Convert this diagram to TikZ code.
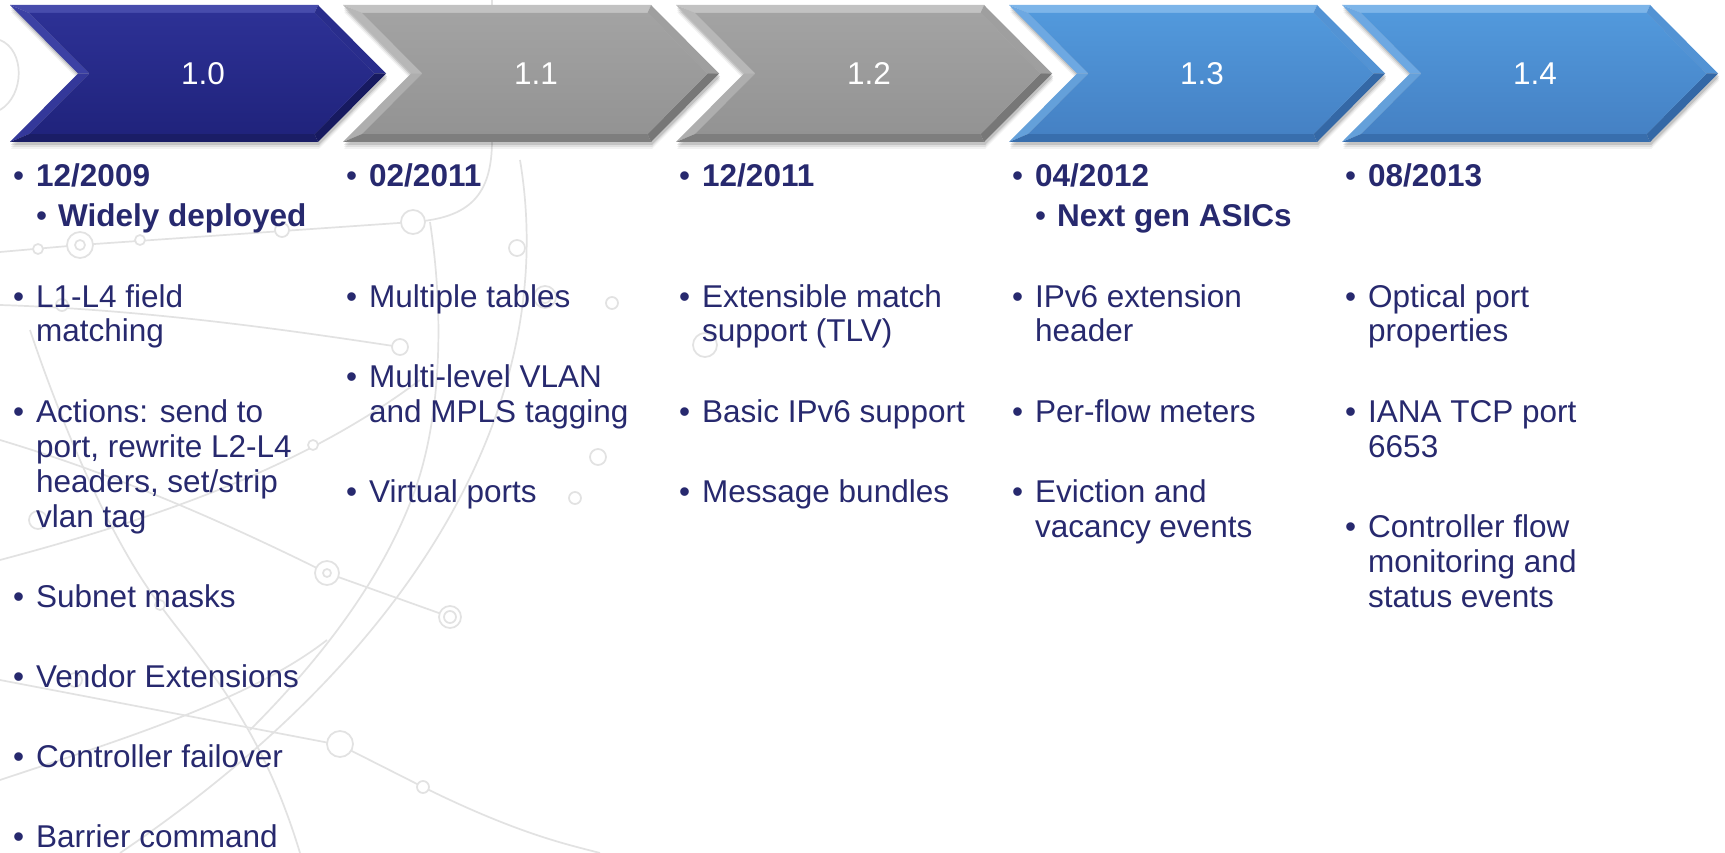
\documentclass[tikz,border=0pt]{standalone}
\usepackage{fontspec}
\setmainfont{Liberation Sans}
\usepackage{array}

\definecolor{ink}{HTML}{27296E}
\definecolor{web}{HTML}{E2E2E2}
% navy palette
\definecolor{navyBodyA}{HTML}{2D3195}\definecolor{navyBodyB}{HTML}{20237C}
\definecolor{navyTopF}{HTML}{474CAC}\definecolor{navyUL}{HTML}{3C41A4}
\definecolor{navyLL}{HTML}{34389A}\definecolor{navyUR}{HTML}{292D8C}
\definecolor{navyLR}{HTML}{171A60}\definecolor{navyBot}{HTML}{1A1D66}
% grey palette
\definecolor{greyBodyA}{HTML}{A3A3A3}\definecolor{greyBodyB}{HTML}{939393}
\definecolor{greyTopF}{HTML}{C2C2C2}\definecolor{greyUL}{HTML}{B7B7B7}
\definecolor{greyLL}{HTML}{AEAEAE}\definecolor{greyUR}{HTML}{9F9F9F}
\definecolor{greyLR}{HTML}{777777}\definecolor{greyBot}{HTML}{7E7E7E}
% blue palette
\definecolor{blueBodyA}{HTML}{5299DC}\definecolor{blueBodyB}{HTML}{4581C4}
\definecolor{blueTopF}{HTML}{7DB5E9}\definecolor{blueUL}{HTML}{6DA8E2}
\definecolor{blueLL}{HTML}{64A0DA}\definecolor{blueUR}{HTML}{5393D4}
\definecolor{blueLR}{HTML}{3468A6}\definecolor{blueBot}{HTML}{386EAD}

\tikzset{
  webline/.style={draw=web, line width=1.7pt},
  ring/.style={draw=web, line width=1.7pt, fill=white},
  chevlabel/.style={text=white, inner sep=0pt, font=\fontsize{31.5}{35}\selectfont},
  entry/.style={anchor=base west, inner sep=0pt, text=ink, font=\fontsize{31.5}{35}\selectfont},
}

% bullet item, lines separated by \\
\newcommand\bul[1]{\makebox[23pt][l]{\textbullet}\begin{tabular}[t]{@{}l@{}}#1\end{tabular}}
\newcommand\subbul[1]{\makebox[22pt][l]{\textbullet}#1}

% bevelled chevron: #1 x offset, #2 palette, #3 label node name, #4 label
\newcommand\drawchev[4]{%
  \begin{scope}[shift={(#1,0)}]
    \foreach \s/\o in {7/0.05,5/0.08,3/0.12}{%
      \fill[black,opacity=\o] (1,5+\s) -- (309,5+\s) -- (377,73.5+\s) -- (309,142+\s) -- (1,142+\s) -- (69,73.5+\s) -- cycle;}
    \fill[#2TopF] (0,5) -- (308,5) -- (304.6,13) -- (19.2,13) -- cycle;
    \fill[#2UL] (0,5) -- (19.2,13) -- (79.3,73.5) -- (68,73.5) -- cycle;
    \fill[#2LL] (68,73.5) -- (79.3,73.5) -- (19.2,134) -- (0,142) -- cycle;
    \fill[#2UR] (308,5) -- (376,73.5) -- (364.7,73.5) -- (304.6,13) -- cycle;
    \fill[#2LR] (376,73.5) -- (308,142) -- (304.6,134) -- (364.7,73.5) -- cycle;
    \fill[#2Bot] (308,142) -- (0,142) -- (19.2,134) -- (304.6,134) -- cycle;
    \shade[top color=#2BodyA, bottom color=#2BodyB] (19.2,13) -- (304.6,13) -- (364.7,73.5) -- (304.6,134) -- (19.2,134) -- (79.3,73.5) -- cycle;
    \node[chevlabel] (#3) at (193,73.5) {#4};
  \end{scope}}

\begin{document}
\begin{tikzpicture}[x=1pt, y=-1pt]
\useasboundingbox (0,0) rectangle (1725,853);
\fill[white] (0,0) rectangle (1725,853);

% faint network decoration in the background
\begin{scope}
  \clip (0,0) rectangle (1725,853);
  \draw[webline] (0,252) -- (80,245) -- (413,222) .. controls (470,218) and (492,195) .. (492,140) -- (492,0);
  \draw[webline] (0,305) .. controls (160,310) and (320,335) .. (400,347);
  \draw[webline] (430,222) .. controls (445,320) and (440,420) .. (415,490) .. controls (390,560) and (340,640) .. (250,730);
  \draw[webline] (520,160) .. controls (560,400) and (420,650) .. (120,853);
  \draw[webline] (0,680) -- (340,745) -- (423,787) .. controls (520,835) and (570,845) .. (600,853);
  \draw[webline] (0,440) .. controls (100,470) and (200,510) .. (327,573) -- (450,617);
  \draw[webline] (0,560) .. controls (150,520) and (300,470) .. (420,380);
  \draw[webline] (0,780) .. controls (120,740) and (250,700) .. (327,640);
  \draw[webline] (0,40) .. controls (25,50) and (25,95) .. (0,110);
  \draw[webline] (30,330) .. controls (60,420) and (110,540) .. (160,605) .. controls (200,660) and (260,720) .. (300,853);
  \foreach \cx/\cy/\r in {38/249/5, 80/245/13, 140/240/5, 282/230/7, 413/222/12, 62/305/6,
      400/347/8, 517/248/8, 545/297/11, 612/303/6, 705/345/12, 313/445/5, 598/457/8,
      327/573/12, 450/617/11, 340/744/13, 423/787/6, 75/680/7, 160/605/5, 38/520/9, 575/498/6}{%
    \draw[ring] (\cx,\cy) circle[radius=\r];}
  \foreach \cx/\cy/\r in {80/245/5, 327/573/4, 450/617/6, 545/297/6}{%
    \draw[ring] (\cx,\cy) circle[radius=\r];}
\end{scope}

% version chevrons
\drawchev{10}{navy}{v10}{1.0}
\drawchev{343}{grey}{v11}{1.1}
\drawchev{676}{grey}{v12}{1.2}
\drawchev{1009}{blue}{v13}{1.3}
\drawchev{1342}{blue}{v14}{1.4}

% column 1.0
\node[entry] (c1d) at (13,187) {\bul{\textbf{12/2009}}};
\node[entry] (c1s) at (36,227) {\subbul{\textbf{Widely deployed}}};
\node[entry] (c1a) at (13,307) {\bul{L1-L4 field\\matching}};
\node[entry] (c1b) at (13,422) {\bul{Actions: send to\\port, rewrite L2-L4\\headers, set/strip\\vlan tag}};
\node[entry] (c1c) at (13,607) {\bul{Subnet masks}};
\node[entry] (c1e) at (13,687) {\bul{Vendor Extensions}};
\node[entry] (c1f) at (13,767) {\bul{Controller failover}};
\node[entry] (c1g) at (13,847) {\bul{Barrier command}};

% column 1.1
\node[entry] (c2d) at (346,187) {\bul{\textbf{02/2011}}};
\node[entry] (c2a) at (346,307) {\bul{Multiple tables}};
\node[entry] (c2b) at (346,387) {\bul{Multi-level VLAN\\and MPLS tagging}};
\node[entry] (c2c) at (346,502) {\bul{Virtual ports}};

% column 1.2
\node[entry] (c3d) at (679,187) {\bul{\textbf{12/2011}}};
\node[entry] (c3a) at (679,307) {\bul{Extensible match\\support (TLV)}};
\node[entry] (c3b) at (679,422) {\bul{Basic IPv6 support}};
\node[entry] (c3c) at (679,502) {\bul{Message bundles}};

% column 1.3
\node[entry] (c4d) at (1012,187) {\bul{\textbf{04/2012}}};
\node[entry] (c4s) at (1035,227) {\subbul{\textbf{Next gen ASICs}}};
\node[entry] (c4a) at (1012,307) {\bul{IPv6 extension\\header}};
\node[entry] (c4b) at (1012,422) {\bul{Per-flow meters}};
\node[entry] (c4c) at (1012,502) {\bul{Eviction and\\vacancy events}};

% column 1.4
\node[entry] (c5d) at (1345,187) {\bul{\textbf{08/2013}}};
\node[entry] (c5a) at (1345,307) {\bul{Optical port\\properties}};
\node[entry] (c5b) at (1345,422) {\bul{IANA TCP port\\6653}};
\node[entry] (c5c) at (1345,537) {\bul{Controller flow\\monitoring and\\status events}};
\end{tikzpicture}
\end{document}
